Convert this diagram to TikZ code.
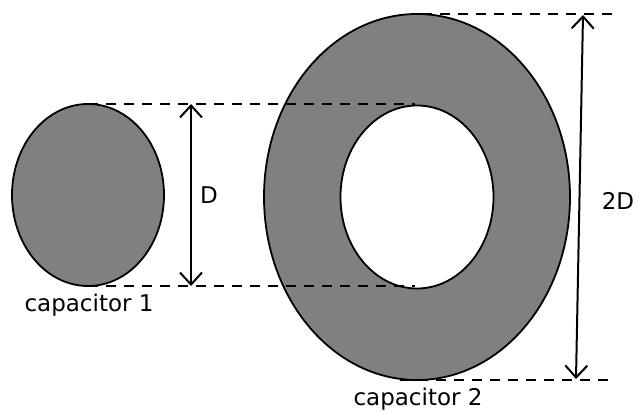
\documentclass[tikz,border=0pt]{standalone}
\usepackage{fontspec}
\setmainfont{DejaVu Sans}
\usetikzlibrary{arrows.meta,shapes.geometric}
\definecolor{capgray}{RGB}{128,128,128}
\begin{document}
\begin{tikzpicture}[x=1pt,y=-1pt,
  capshape/.style={draw=black,line width=1.8pt,fill=capgray},
  dimline/.style={line width=2pt,dash pattern=on 10pt off 8pt},
  dimarrow/.style={line width=2pt,{Straight Barb[length=12pt,width=22pt]}-{Straight Barb[length=12pt,width=22pt]}},
  lbl/.style={font=\fontsize{23}{27}\selectfont,inner sep=0pt}]
\useasboundingbox (0,0) rectangle (637,412);
% capacitor 1
\node[capshape,ellipse,minimum width=152pt,minimum height=182pt,inner sep=0pt] (c1) at (88,195) {};
% capacitor 2 (ring)
\path[capshape,even odd rule] (417,197) ellipse [x radius=153, y radius=183] (417,197) ellipse [x radius=76.5, y radius=91.5];
\coordinate (c2) at (417,197);
% dashed guide lines
\coordinate (t1a) at (88,104); \coordinate (t1b) at (415,104);
\coordinate (b1a) at (88,286); \coordinate (b1b) at (415,286);
\coordinate (t2a) at (422,14); \coordinate (t2b) at (612,14);
\coordinate (b2a) at (400,380); \coordinate (b2b) at (612,380);
\draw[dimline] (t1a) -- (t1b);
\draw[dimline] (b1a) -- (b1b);
\draw[dimline] (t2a) -- (t2b);
\draw[dimline] (b2a) -- (b2b);
% arrows
\coordinate (dA) at (191,104); \coordinate (dB) at (191,286);
\coordinate (eA) at (583,15); \coordinate (eB) at (576,379);
\draw[dimarrow] (dA) -- (dB);
\draw[dimarrow] (eA) -- (eB);
% labels
\node[lbl] (lD) at (209,195) {D};
\node[lbl] (l2D) at (618,201) {2D};
\node[lbl] (lc1) at (89,305) {capacitor 1};
\node[lbl] (lc2) at (418,399) {capacitor 2};
\end{tikzpicture}
\end{document}
